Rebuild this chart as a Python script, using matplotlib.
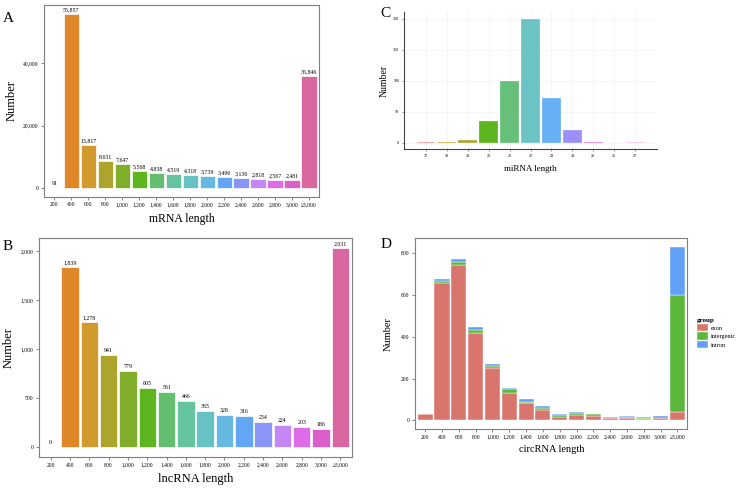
import matplotlib.pyplot as plt
import numpy as np

plt.rcParams["font.family"] = ["Liberation Serif", "DejaVu Serif"]

# Data
len_labels = ["200", "400", "600", "800", "1,000", "1,200", "1,400", "1,600", "1,800",
              "2,000", "2,200", "2,400", "2,600", "2,800", "3,000", "\u22653,000"]
mrna_counts = [91, 55857, 13817, 8631, 7647, 5568, 4838, 4519, 4318,
               3739, 3496, 3136, 2818, 2567, 2481, 35846]
lncrna_counts = [0, 1839, 1278, 941, 779, 605, 561, 466, 365,
                 328, 316, 254, 224, 203, 186, 2031]
mirna_len = [17, 18, 19, 20, 21, 22, 23, 24, 25, 26, 27]
mirna_counts = [2, 2, 4, 35, 100, 200, 73, 20, 2, 0, 2]
circ_exon = [32, 657, 743, 416, 248, 133, 83, 52, 16, 24, 21, 10, 11, 8, 11, 40]
circ_intergenic = [1, 6, 14, 16, 11, 18, 6, 8, 8, 11, 8, 3, 5, 6, 3, 557]
circ_intron = [0, 11, 13, 14, 8, 6, 13, 10, 5, 6, 4, 4, 3, 2, 5, 231]

len_colors = ["#F8B0A8", "#DE8628", "#D09A2C", "#ADA52B", "#80AE2A", "#5DB61E",
              "#63BE70", "#66C3A0", "#67C2C4", "#66B8E3", "#63A6F5", "#8B95F5",
              "#C587F5", "#DE6BE8", "#DB5ECB", "#D8679F"]
mirna_colors = ["#F0908A", "#D9A030", "#ABA53A", "#5CB51F", "#66C07A", "#6CC3C3",
                "#66B0F5", "#9A90F8", "#D96BF0", "#F0A0E8", "#F0C4E4"]
group_colors = {"exon": "#D8766D", "intergenic": "#5CB83C", "intron": "#62A0F8"}

fig = plt.figure(figsize=(7.4, 4.91), dpi=100)


def frame(ax):
    for s in ax.spines.values():
        s.set_color("#7f7f7f")
        s.set_linewidth(0.8)
    ax.tick_params(axis="both", labelsize=4, length=2, width=0.5, color="#555555", pad=2)


def length_panel(rect, counts, xlabel, xlabel_size, ylabel_size, ticks, tick_labels):
    ax = fig.add_axes(rect)
    x = np.arange(1, len(counts) + 1)
    ax.bar(x, counts, width=0.9, color=len_colors, edgecolor="white", linewidth=0.5)
    top = max(counts)
    for xi, v in zip(x, counts):
        ax.text(xi, v + top * 0.01, f"{v:,}", ha="center", va="bottom", fontsize=4.2)
    ax.set_xlim(0.4, len(counts) + 0.6)
    ax.set_ylim(-top * 0.05, top * 1.05)
    ax.set_xticks(x)
    ax.set_xticklabels(len_labels)
    ax.set_yticks(ticks)
    ax.set_yticklabels(tick_labels)
    ax.set_xlabel(xlabel, fontsize=xlabel_size, labelpad=4)
    ax.set_ylabel("Number", fontsize=ylabel_size, labelpad=4)
    frame(ax)
    return ax


# A: mRNA
length_panel([0.0595, 0.599, 0.372, 0.391], mrna_counts, "mRNA length", 8.5, 9,
             [0, 20000, 40000], ["0", "20,000", "40,000"])
# B: lncRNA
length_panel([0.0527, 0.069, 0.423, 0.446], lncrna_counts, "lncRNA length", 9, 9,
             [0, 500, 1000, 1500, 2000], ["0", "500", "1,000", "1,500", "2,000"])

# C: miRNA
axc = fig.add_axes([0.546, 0.6965, 0.342, 0.279])
axc.bar(mirna_len, mirna_counts, width=0.9, color=mirna_colors, edgecolor="white", linewidth=0.2)
axc.set_xlim(15.95, 28.05)
axc.set_ylim(-10, 211)
axc.set_xticks(mirna_len)
axc.set_yticks([0, 50, 100, 150, 200])
axc.grid(color="#f2f2f2", linewidth=0.5)
axc.set_axisbelow(True)
for s in ["top", "right"]:
    axc.spines[s].set_visible(False)
for s in ["left", "bottom"]:
    axc.spines[s].set_color("#444444")
    axc.spines[s].set_linewidth(0.8)
axc.tick_params(axis="both", labelsize=3, length=1.5, width=0.4, color="#555555", pad=2)
axc.set_xlabel("miRNA length", fontsize=6.5, labelpad=5)
axc.set_ylabel("Number", fontsize=7, labelpad=3)

# D: circRNA stacked
axd = fig.add_axes([0.561, 0.126, 0.368, 0.389])
x = np.arange(1, len(circ_exon) + 1)
exon = np.array(circ_exon)
inter = np.array(circ_intergenic)
intron = np.array(circ_intron)
axd.bar(x, exon, width=0.9, color=group_colors["exon"], edgecolor="white", linewidth=0.3, label="exon")
axd.bar(x, inter, width=0.9, bottom=exon, color=group_colors["intergenic"], edgecolor="white",
        linewidth=0.3, label="intergenic")
axd.bar(x, intron, width=0.9, bottom=exon + inter, color=group_colors["intron"], edgecolor="white",
        linewidth=0.3, label="intron")
total = (exon + inter + intron).max()
axd.set_xlim(0.4, len(x) + 0.6)
axd.set_ylim(-total * 0.05, total * 1.05)
axd.set_xticks(x)
axd.set_xticklabels(len_labels)
axd.set_yticks([0, 200, 400, 600, 800])
axd.set_xlabel("circRNA length", fontsize=7.5, labelpad=4)
axd.set_ylabel("Number", fontsize=7.5, labelpad=6)
frame(axd)
leg = axd.legend(title="group", loc="upper left", bbox_to_anchor=(0.938, 0.358),
                 bbox_transform=fig.transFigure, frameon=False, fontsize=4.5,
                 title_fontsize=5, handlelength=1.8, handleheight=1.4, handletextpad=0.4,
                 labelspacing=0.2, borderaxespad=0)
leg.get_title().set_fontweight("bold")
leg._legend_box.align = "left"

# panel letters
fig.text(0.004, 0.975, "A", fontsize=11, va="top")
fig.text(0.004, 0.512, "B", fontsize=11, va="top")
fig.text(0.514, 0.985, "C", fontsize=11, va="top")
fig.text(0.514, 0.515, "D", fontsize=11, va="top")

fig.savefig("out.png", dpi=100)
